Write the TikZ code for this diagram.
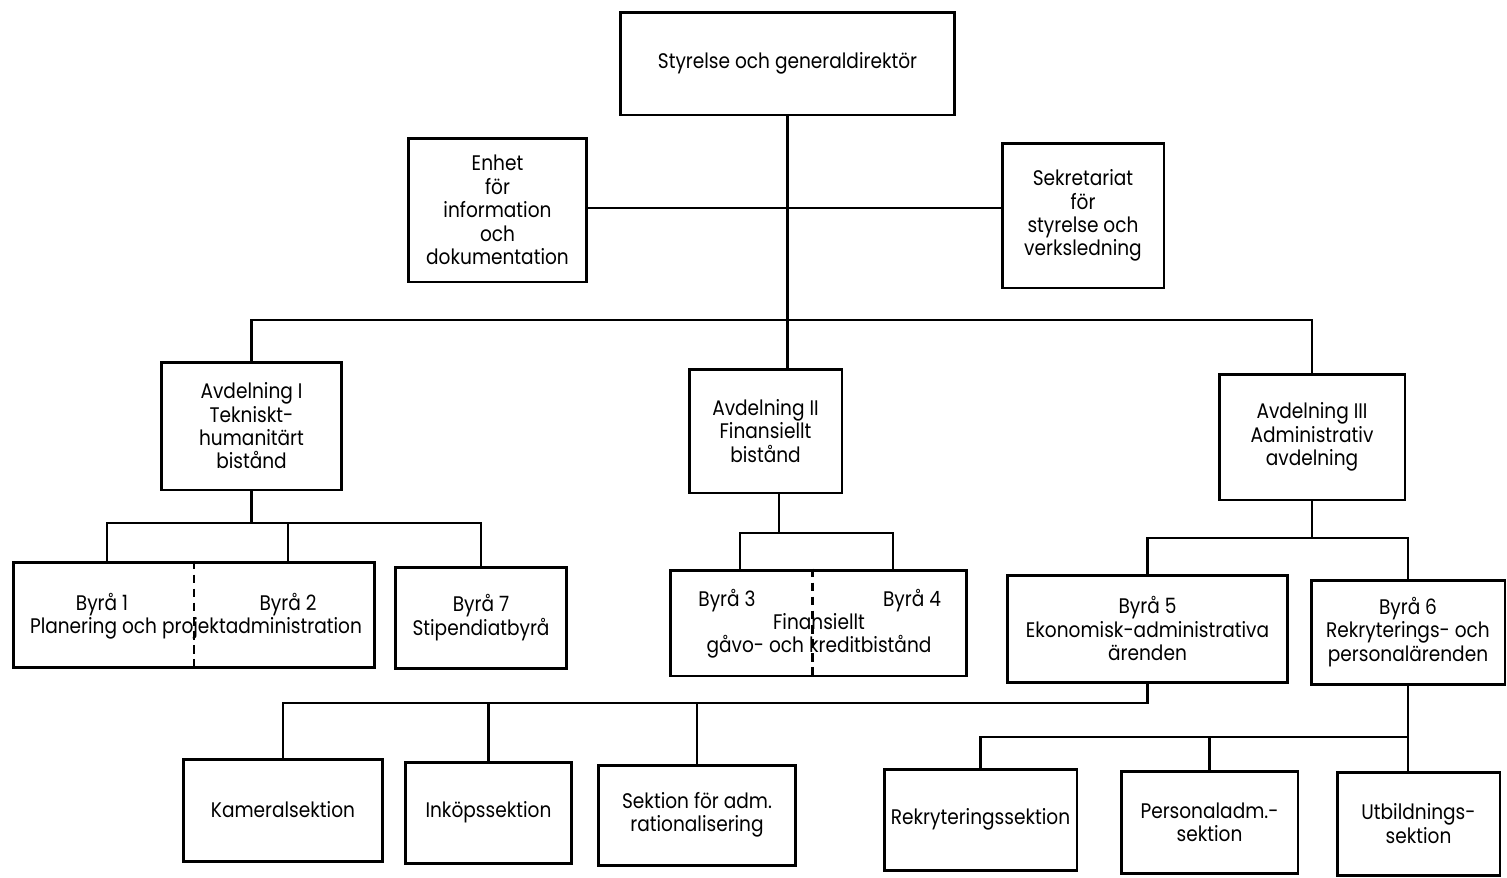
\documentclass[tikz,border=0pt]{standalone}
\usepackage{fontspec}
\setmainfont[FakeStretch=0.88]{Poppins}
\usetikzlibrary{calc}
\tikzset{
  box/.style={draw=black, line width=1.7pt, align=center, inner sep=0pt,
    font=\fontsize{12}{13.3}\selectfont},
  txt/.style={inner sep=0pt, align=center, font=\fontsize{12}{13.3}\selectfont},
  conn/.style={draw=black, line width=1.4pt},
  split/.style={draw=black, line width=1.4pt, dashed, dash pattern=on 5pt off 3pt}
}
\begin{document}
\begin{tikzpicture}[x=0.02cm, y=-0.02cm]
\useasboundingbox (0,0) rectangle (1507,877);
% nodes
\node[box, minimum width=6.70cm, minimum height=2.06cm] (top) at (787.5,63.5) {Styrelse och generaldirektör};
\node[box, minimum width=3.58cm, minimum height=2.88cm] (enhet) at (497.5,210) {Enhet\\för\\information\\och\\dokumentation};
\node[box, minimum width=3.24cm, minimum height=2.90cm] (sekr) at (1083,215.5) {Sekretariat\\för\\styrelse och\\verksledning};
\node[box, minimum width=3.62cm, minimum height=2.56cm] (avd1) at (251.5,426) {Avdelning I\\Tekniskt-\\humanitärt\\bistånd};
\node[box, minimum width=3.06cm, minimum height=2.48cm] (avd2) at (765.5,431) {Avdelning II\\Finansiellt\\bistånd};
\node[box, minimum width=3.72cm, minimum height=2.52cm] (avd3) at (1312,437) {Avdelning III\\Administrativ\\avdelning};
\node[box, minimum width=7.24cm, minimum height=2.10cm] (b12) at (194,614.5) {};
\node[txt] (b1t) at (102,605) {Byrå 1};
\node[txt] (b2t) at (288,605) {Byrå 2};
\node[txt] (b12t) at (196,628) {Planering och projektadministration};
\node[box, minimum width=3.44cm, minimum height=2.02cm] (b7) at (481,617.5) {Byrå 7\\Stipendiatbyrå};
\node[box, minimum width=5.94cm, minimum height=2.12cm] (b34) at (818.5,623) {};
\node[txt] (b3t) at (727,601) {Byrå 3};
\node[txt] (b4t) at (912,601) {Byrå 4};
\node[txt] (b34t) at (819,636) {Finansiellt\\gåvo- och kreditbistånd};
\node[box, minimum width=5.62cm, minimum height=2.14cm] (b5) at (1147.5,628.5) {Byrå 5\\Ekonomisk-administrativa\\ärenden};
\node[box, minimum width=3.88cm, minimum height=2.08cm] (b6) at (1408,632) {Byrå 6\\Rekryterings- och\\personalärenden};
\node[box, minimum width=4.00cm, minimum height=2.04cm] (kam) at (283,810) {Kameralsektion};
\node[box, minimum width=3.34cm, minimum height=2.02cm] (ink) at (488.5,812.5) {Inköpssektion};
\node[box, minimum width=3.96cm, minimum height=2.00cm] (sekt) at (697,815) {Sektion för adm.\\rationalisering};
\node[box, minimum width=3.86cm, minimum height=2.02cm] (rek) at (980.5,819.5) {Rekryteringssektion};
\node[box, minimum width=3.54cm, minimum height=2.04cm] (pers) at (1209.5,822) {Personaladm.-\\sektion};
\node[box, minimum width=3.26cm, minimum height=2.06cm] (utb) at (1418.5,823.5) {Utbildnings-\\sektion};
% bus coordinates
\coordinate (mid) at (787.5,208);
\coordinate (bus1) at (787.5,320);
\coordinate (bus2) at (251.5,523);
\coordinate (b1top) at (107,562);
\coordinate (b2top) at (288,562);
\coordinate (bus3) at (779,533);
\coordinate (b3top) at (740,570);
\coordinate (b4top) at (893,570);
\coordinate (bus4) at (1312,538);
\coordinate (bus5) at (1147.5,703);
\coordinate (bus6) at (1408,737);
% connectors
\draw[conn] (top.south) -- (top.south |- avd2.north);
\draw[conn] (enhet.east |- mid) -- (sekr.west |- mid);
\draw[conn] (avd1.north) |- (bus1) -| (avd3.north);
\draw[conn] (avd1.south) -- (bus2);
\draw[conn] (b1top) |- (bus2) -| (b7.north);
\draw[conn] (b2top) -- (b2top |- bus2);
\draw[conn] (avd2.south -| bus3) -- (bus3);
\draw[conn] (b3top) |- (bus3) -| (b4top);
\draw[conn] (avd3.south) -- (bus4);
\draw[conn] (b5.north) |- (bus4) -| (b6.north);
\draw[conn] (b5.south) -- (bus5) -| (kam.north);
\draw[conn] (ink.north) -- (ink.north |- bus5);
\draw[conn] (sekt.north) -- (sekt.north |- bus5);
\draw[conn] (b6.south) -- (b6.south |- utb.north);
\draw[conn] (bus6) -| (rek.north);
\draw[conn] (pers.north) -- (pers.north |- bus6);
% dashed splits
\draw[split] (b12.north) -- (b12.south);
\draw[split] ($(b34.north)+(-6,0)$) -- ($(b34.south)+(-6,0)$);
\end{tikzpicture}
\end{document}
